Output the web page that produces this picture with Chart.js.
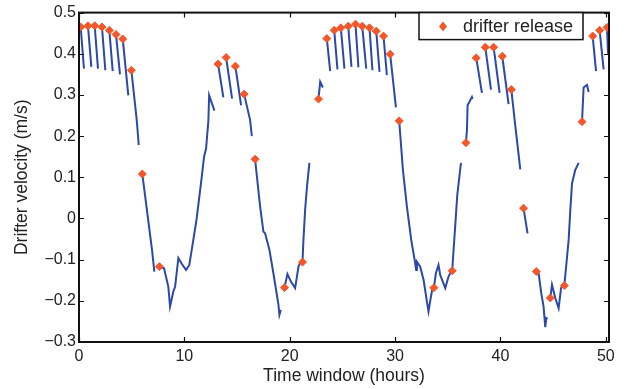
<!DOCTYPE html>
<html>
<head>
<meta charset="utf-8">
<script src="https://cdn.jsdelivr.net/npm/chart.js@4/dist/chart.umd.min.js"></script>
<style>
  body { margin: 0; background: #fff; }
  canvas { display: block; }
</style>
</head>
<body>
<canvas id="drifters" width="626" height="389"></canvas>
<script>
// each track starts at its release point (first entry)
const trackTimes = [
  [0.16, 0.47],
  [0.85, 1.17],
  [1.49, 1.80],
  [2.18, 2.50],
  [2.88, 3.20],
  [3.51, 3.89],
  [4.15, 4.68],
  [4.97, 5.48, 5.67],
  [6.01, 6.93, 7.15],
  [7.63, 8.07, 8.48, 8.64, 8.96, 9.12, 9.43, 9.75, 10.16, 10.47, 10.85, 11.17, 11.65, 11.87, 12.06, 12.28, 12.35, 12.85],
  [13.20, 13.70],
  [13.96, 14.53],
  [14.84, 15.38],
  [15.67, 16.24, 16.40],
  [16.71, 17.19, 17.50, 17.66, 18.07, 18.45, 18.93, 19.02, 19.15],
  [19.50, 19.78, 20.13, 20.51, 20.83, 20.99],
  [21.21, 21.30, 21.46, 21.65, 21.87],
  [22.73, 22.89, 23.14],
  [23.52, 23.84],
  [24.22, 24.53],
  [24.85, 25.19],
  [25.55, 25.86],
  [26.24, 26.52],
  [26.88, 27.26],
  [27.57, 27.85],
  [28.21, 28.52],
  [28.90, 29.22],
  [29.53, 30.08],
  [30.39, 30.74, 31.12, 31.53, 31.91, 32.00, 32.07, 32.38, 32.70, 33.02, 33.17, 33.40, 33.52],
  [33.68, 33.87, 34.12, 34.28, 34.76, 35.07, 35.33],
  [35.42, 35.55, 35.71, 35.90, 36.25],
  [36.72, 36.82, 36.88, 37.29, 37.35],
  [37.70, 38.24],
  [38.56, 39.10],
  [39.35, 39.92],
  [40.17, 40.77],
  [41.03, 41.45, 41.88],
  [42.19, 42.57],
  [43.40, 43.62, 43.87, 44.09, 44.25, 44.35, 44.47],
  [44.73, 44.89, 45.20, 45.52, 45.75, 45.87],
  [46.06, 46.32, 46.47, 46.63, 46.79, 47.10, 47.42],
  [47.74, 47.89, 48.21, 48.37],
  [48.75, 49.07],
  [49.41, 49.79],
  [50.11, 50.21]
]

const trackVelocities = [
  [0.465, 0.364],
  [0.468, 0.368],
  [0.468, 0.364],
  [0.465, 0.360],
  [0.457, 0.358],
  [0.447, 0.350],
  [0.436, 0.299],
  [0.360, 0.239, 0.178],
  [0.108, -0.076, -0.129],
  [-0.117, -0.121, -0.166, -0.214, -0.177, -0.166, -0.096, -0.110, -0.125, -0.113, -0.052, 0.000, 0.101, 0.150, 0.170, 0.238, 0.299, 0.262],
  [0.375, 0.294],
  [0.391, 0.291],
  [0.370, 0.275],
  [0.302, 0.239, 0.200],
  [0.144, 0.029, -0.032, -0.036, -0.076, -0.133, -0.210, -0.234, -0.222],
  [-0.168, -0.135, -0.154, -0.169, -0.117, -0.107],
  [-0.106, -0.052, 0.021, 0.081, 0.135],
  [0.290, 0.332, 0.318],
  [0.437, 0.358],
  [0.457, 0.362],
  [0.463, 0.364],
  [0.467, 0.368],
  [0.472, 0.367],
  [0.467, 0.364],
  [0.463, 0.360],
  [0.455, 0.356],
  [0.443, 0.348],
  [0.399, 0.270],
  [0.237, 0.118, 0.029, -0.052, -0.109, -0.125, -0.105, -0.117, -0.149, -0.202, -0.226, -0.190, -0.173],
  [-0.168, -0.133, -0.113, -0.137, -0.169, -0.141, -0.128],
  [-0.127, -0.076, -0.016, 0.057, 0.135],
  [0.184, 0.215, 0.275, 0.295, 0.290],
  [0.390, 0.305],
  [0.416, 0.313],
  [0.416, 0.305],
  [0.394, 0.278],
  [0.313, 0.215, 0.119],
  [0.025, -0.036],
  [-0.129, -0.133, -0.181, -0.214, -0.264, -0.242, -0.244],
  [-0.193, -0.161, -0.193, -0.218, -0.169, -0.164],
  [-0.163, -0.093, -0.052, 0.021, 0.085, 0.118, 0.135],
  [0.235, 0.318, 0.324, 0.307],
  [0.443, 0.358],
  [0.457, 0.362],
  [0.464, 0.400]
]

const xTicks = [0, 10, 20, 30, 40, 50]
const yTicks = [-0.3, -0.2, -0.1, 0, 0.1, 0.2, 0.3, 0.4, 0.5]

const lineColor = '#2c48a8'
const markerColor = '#f2572b'
const fontFamily = '"Liberation Sans", Arial, Helvetica, sans-serif'

const releases = trackTimes.map((t, i) => ({ x: t[0], y: trackVelocities[i][0] }))

const datasets = [
  {
    label: 'drifter release',
    data: releases,
    showLine: false,
    pointStyle: 'rectRot',
    pointRadius: 4,
    backgroundColor: markerColor,
    borderColor: markerColor,
    borderWidth: 1,
    order: 0
  }
]
trackTimes.forEach((t, i) => {
  datasets.push({
    label: 'track ' + (i + 1),
    data: t.map((x, j) => ({ x: x, y: trackVelocities[i][j] })),
    showLine: true,
    borderColor: lineColor,
    borderWidth: 2,
    pointRadius: 0,
    tension: 0,
    order: 1
  })
})

// MATLAB style box with inward ticks on all four sides
const boxAxes = {
  id: 'boxAxes',
  afterDatasetsDraw(chart) {
    const { ctx, chartArea: a, scales: { x, y } } = chart
    ctx.save()
    ctx.strokeStyle = '#111'
    ctx.lineWidth = 1.2
    xTicks.forEach(v => {
      const px = Math.round(x.getPixelForValue(v)) + 0.5
      ctx.beginPath()
      ctx.moveTo(px, a.bottom); ctx.lineTo(px, a.bottom - 5)
      ctx.moveTo(px, a.top); ctx.lineTo(px, a.top + 5)
      ctx.stroke()
    })
    yTicks.forEach(v => {
      const py = Math.round(y.getPixelForValue(v)) + 0.5
      ctx.beginPath()
      ctx.moveTo(a.left, py); ctx.lineTo(a.left + 5, py)
      ctx.moveTo(a.right, py); ctx.lineTo(a.right - 5, py)
      ctx.stroke()
    })
    ctx.lineWidth = 2
    ctx.strokeRect(a.left, a.top, a.right - a.left, a.bottom - a.top)
    ctx.restore()
  }
}

const boxLegend = {
  id: 'boxLegend',
  afterDraw(chart) {
    const { ctx, chartArea: a } = chart
    const ds = chart.data.datasets[0]
    const left = 419, top = a.top, w = 164, h = 27
    ctx.save()
    ctx.fillStyle = '#fff'
    ctx.fillRect(left, top, w, h)
    ctx.strokeStyle = '#111'
    ctx.lineWidth = 1.5
    ctx.strokeRect(left, top, w, h)
    const cx = left + 24, cy = top + 14
    ctx.fillStyle = markerColor
    ctx.beginPath()
    ctx.moveTo(cx, cy - 5); ctx.lineTo(cx + 4, cy); ctx.lineTo(cx, cy + 5); ctx.lineTo(cx - 4, cy)
    ctx.closePath()
    ctx.fill()
    ctx.fillStyle = '#222'
    ctx.font = '18px ' + fontFamily
    ctx.textBaseline = 'middle'
    ctx.fillText(ds.label, left + 44, cy)
    ctx.restore()
  }
}

const fmt = v => {
  if (Math.abs(v) < 1e-9) return '0'
  return v.toFixed(1).replace('-', '\u2212')
}

new Chart(document.getElementById('drifters'), {
  type: 'scatter',
  data: { datasets: datasets },
  options: {
    responsive: false,
    animation: false,
    layout: { padding: { left: 0, right: 17, top: 12, bottom: 0 } },
    plugins: {
      legend: { display: false },
      tooltip: { enabled: false }
    },
    scales: {
      x: {
        type: 'linear',
        min: 0,
        max: 50.3,
        afterFit: scale => { scale.height = 47 },
        afterBuildTicks: scale => { scale.ticks = xTicks.map(v => ({ value: v })) },
        grid: { display: false, drawTicks: false },
        border: { display: false },
        ticks: {
          padding: 5,
          color: '#222',
          font: { family: fontFamily, size: 16 },
          callback: v => String(v)
        },
        title: {
          display: true,
          text: 'Time window (hours)',
          color: '#222',
          font: { family: fontFamily, size: 17.5 },
          padding: { top: 0, bottom: 2.5 }
        }
      },
      y: {
        type: 'linear',
        min: -0.3,
        max: 0.5,
        afterFit: scale => { scale.width = 79 },
        afterBuildTicks: scale => { scale.ticks = yTicks.map(v => ({ value: v })) },
        grid: { display: false, drawTicks: false },
        border: { display: false },
        ticks: {
          padding: 3,
          color: '#222',
          font: { family: fontFamily, size: 16 },
          callback: v => fmt(v)
        },
        title: {
          display: true,
          text: 'Drifter velocity (m/s)',
          color: '#222',
          font: { family: fontFamily, size: 17.5 },
          padding: { top: 12, bottom: 0 }
        }
      }
    }
  },
  plugins: [boxAxes, boxLegend]
})
</script>
</body>
</html>
